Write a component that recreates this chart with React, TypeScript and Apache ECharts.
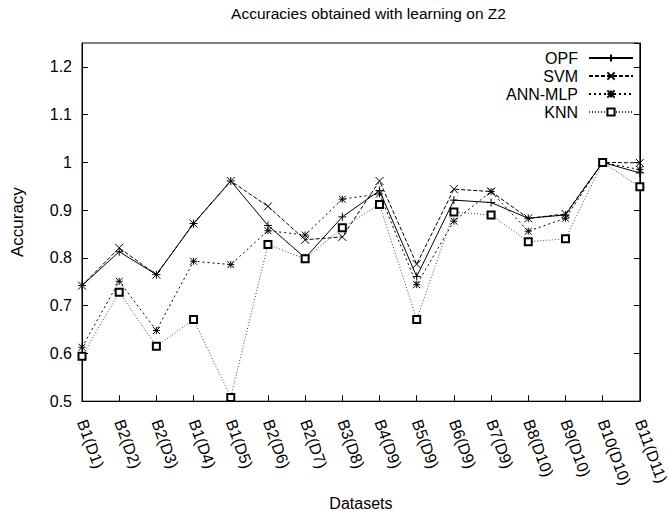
import React, { useEffect, useRef } from "react";
import * as echarts from "echarts";

const categories = [
  "B1(D1)", "B2(D2)", "B2(D3)", "B1(D4)", "B1(D5)", "B2(D6)", "B2(D7)", "B3(D8)",
  "B4(D9)", "B5(D9)", "B6(D9)", "B7(D9)", "B8(D10)", "B9(D10)", "B10(D10)", "B11(D11)",
];
const opf = [0.742, 0.813, 0.765, 0.872, 0.961, 0.868, 0.8, 0.886, 0.941, 0.761, 0.921, 0.916, 0.883, 0.89, 1.0, 0.978];
const svm = [0.742, 0.821, 0.765, 0.872, 0.961, 0.908, 0.838, 0.844, 0.961, 0.787, 0.944, 0.939, 0.883, 0.892, 1.0, 0.999];
const annMlp = [0.613, 0.751, 0.648, 0.793, 0.786, 0.857, 0.848, 0.923, 0.934, 0.744, 0.877, 0.939, 0.856, 0.883, 1.0, 0.985];
const knn = [0.594, 0.728, 0.615, 0.671, 0.508, 0.828, 0.798, 0.863, 0.912, 0.671, 0.896, 0.89, 0.834, 0.84, 1.0, 0.949];

const FONT = "'Liberation Sans', Arial, Helvetica, sans-serif";

const PLUS = "path://M4,0L4,8M0,4L8,4";
const CROSS = "path://M0,0L8,8M8,0L0,8";
const STAR = "path://M0,0L8,8M8,0L0,8M4,0L4,8M0,4L8,4";

export default function App() {
  const ref = useRef<HTMLDivElement>(null);
  useEffect(() => {
    document.body.style.margin = "0";
    document.body.style.overflow = "hidden";
    const chart = echarts.init(ref.current!, null, { renderer: "svg" });
    const mk = (name: string, data: number[], symbol: string, size: number, dash: any, color = "#000") => ({
      name,
      type: "line",
      data,
      symbol,
      symbolSize: size,
      showSymbol: true,
      lineStyle: { color, width: 1, type: dash },
      itemStyle: { color: "#000", borderColor: "#000", borderWidth: 1 },
      emphasis: { disabled: true },
    });
    chart.setOption({
      animation: false,
      textStyle: { fontFamily: FONT },
      graphic: [
        {
          type: "text",
          x: 368.5,
          y: 13,
          style: {
            text: "Accuracies obtained with learning on Z2",
            font: `15.5px ${FONT}`,
            fill: "#000",
            textAlign: "center",
            textVerticalAlign: "middle",
          },
        },
      ],
      grid: { left: 82, right: 16, top: 43, bottom: 102, show: true, borderColor: "#000", borderWidth: 1, containLabel: false },
      legend: {
        orient: "vertical",
        right: 37,
        top: 50,
        padding: 0,
        align: "right",
        itemWidth: 44,
        itemHeight: 9,
        itemGap: 2,
        textStyle: { fontSize: 16, color: "#000", fontFamily: FONT, padding: [0, 6, 0, 0] },
        data: ["OPF", "SVM", "ANN-MLP", "KNN"],
      },
      xAxis: {
        type: "category",
        data: categories,
        boundaryGap: false,
        name: "Datasets",
        nameLocation: "middle",
        nameGap: 91,
        nameTextStyle: { fontSize: 16, color: "#000", fontFamily: FONT },
        axisLine: { lineStyle: { color: "#000", width: 1 } },
        axisTick: { inside: true, length: 6, lineStyle: { color: "#000" } },
        axisLabel: { rotate: -70, margin: 19, fontSize: 16, color: "#000", interval: 0, fontFamily: FONT },
        splitLine: { show: false },
      },
      yAxis: [
        {
          type: "value",
          min: 0.5,
          max: 1.25,
          interval: 0.1,
          name: "Accuracy",
          nameLocation: "middle",
          nameGap: 56,
          nameTextStyle: { fontSize: 17, color: "#000", fontFamily: FONT },
          axisLine: { show: true, lineStyle: { color: "#000", width: 1 } },
          axisTick: { show: true, inside: true, length: 6, lineStyle: { color: "#000" } },
          axisLabel: { showMaxLabel: false, margin: 10, fontSize: 16, color: "#000", fontFamily: FONT },
          splitLine: { show: false },
        },
        {
          type: "value",
          position: "right",
          min: 0.5,
          max: 1.25,
          interval: 0.1,
          axisLine: { show: true, lineStyle: { color: "#000", width: 1 } },
          axisTick: { show: true, inside: true, length: 6, lineStyle: { color: "#000" } },
          axisLabel: { show: false },
          splitLine: { show: false },
        },
      ],
      series: [
        mk("OPF", opf, PLUS, 8, "solid"),
        mk("SVM", svm, CROSS, 8, [4, 2]),
        mk("ANN-MLP", annMlp, STAR, 7, [2, 3]),
        mk("KNN", knn, "emptyRect", 7, [1, 2], "#444"),
      ],
    });
    return () => chart.dispose();
  }, []);
  return <div ref={ref} style={{ width: 671, height: 516 }} />;
}
